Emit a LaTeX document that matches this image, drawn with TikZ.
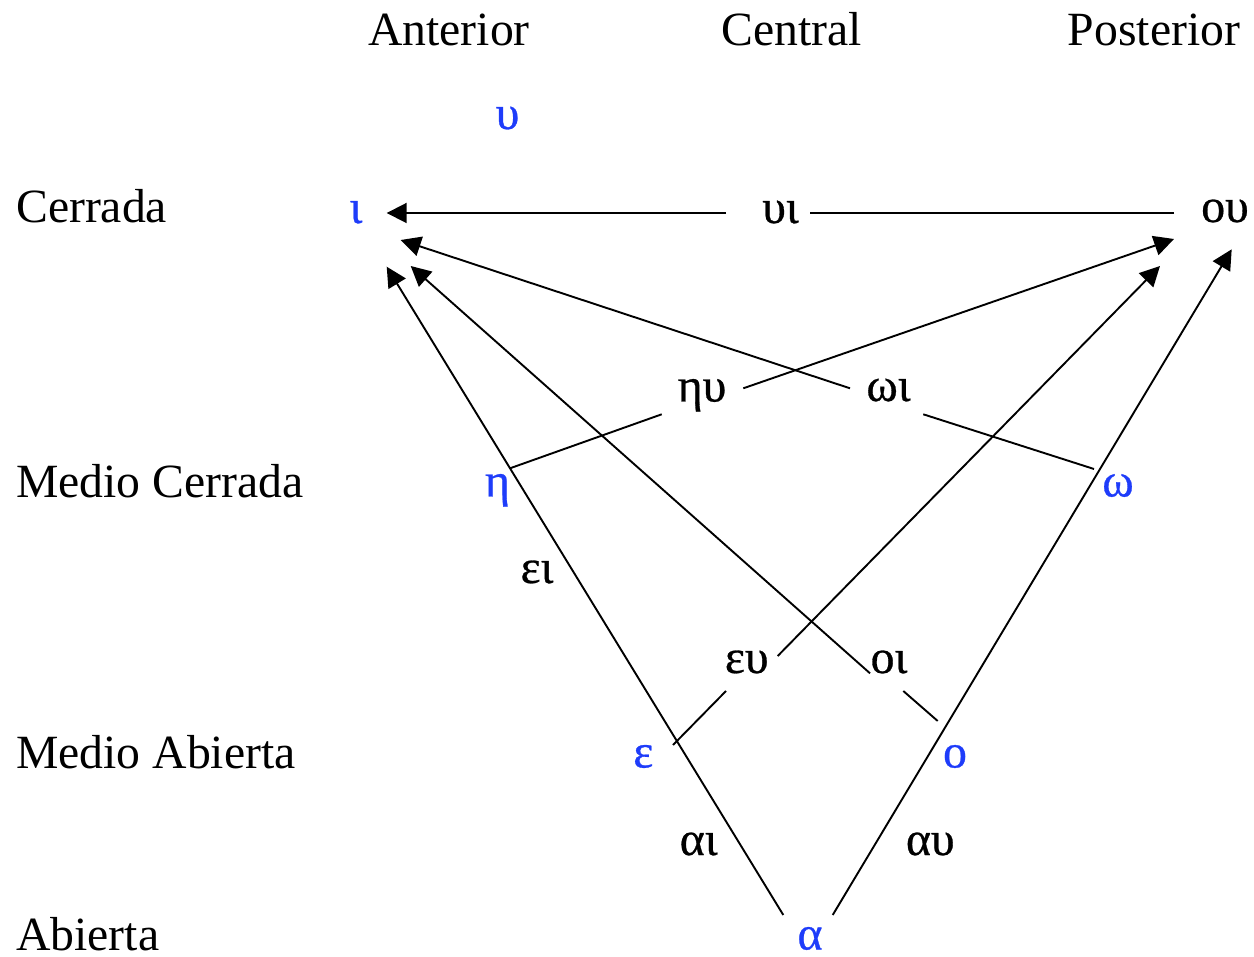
\documentclass[tikz,border=0pt]{standalone}
\usepackage{fontspec}
\setmainfont{Liberation Serif}
\newfontfamily\greekfont[FakeBold=0.6]{Liberation Serif}
\usetikzlibrary{arrows.meta}
\definecolor{vowelblue}{RGB}{30,60,250}
\begin{document}
\begin{tikzpicture}[x=1pt,y=-1pt,
  txt/.style={inner sep=0pt, anchor=base, font=\fontsize{47.7}{57}\selectfont},
  cat/.style={txt},
  rowlab/.style={txt, anchor=base west},
  vowel/.style={txt, font=\fontsize{47.7}{57}\greekfont, text=vowelblue},
  diph/.style={txt, font=\fontsize{47.7}{57}\greekfont, text=black},
  seg/.style={line width=1.9pt},
  arr/.style={seg, -{Triangle[length=20pt,width=20pt]}}]
\useasboundingbox (0,0) rectangle (1254,957);

% column headers
\node[cat] (ant) at (449,46) {Anterior};
\node[cat] (cen) at (792,46) {Central};
\node[cat] (pos) at (1154,46) {Posterior};

% row labels
\node[rowlab] (cer) at (16,223) {Cerrada};
\node[rowlab] (mcer) at (16,498) {Medio Cerrada};
\node[rowlab] (mab) at (16,768) {Medio Abierta};
\node[rowlab] (ab) at (16,950) {Abierta};

% monophthongs
\node[vowel] (u) at (507.5,129) {υ};
\node[vowel] (i) at (356,223) {ι};
\node[vowel] (eta) at (497.5,496.5) {η};
\node[vowel] (omega) at (1118,496.5) {ω};
\node[vowel] (eps) at (643.3,767.5) {ε};
\node[vowel] (o) at (955,767.5) {ο};
\node[vowel] (a) at (810,949.5) {α};

% diphthongs
\node[diph] (ui) at (780.5,223) {υι};
\node[diph] (ou) at (1225,222) {ου};
\node[diph] (hu) at (702,401.5) {ηυ};
\node[diph] (wi) at (888.5,401) {ωι};
\node[diph] (eu) at (746.7,673) {ευ};
\node[diph] (oi) at (889,673) {οι};
\node[diph] (ei) at (537,583) {ει};
\node[diph] (ai) at (698.7,855) {αι};
\node[diph] (au) at (930.3,855) {αυ};

% connector end points
\coordinate (ou-w) at (1174,213);
\coordinate (ui-e) at (810,213);
\coordinate (ui-w) at (726,213);
\coordinate (i-e) at (386.7,213);

\coordinate (omega-start) at (1094,469);
\coordinate (wi-in) at (923.3,414.3);
\coordinate (wi-out) at (850,388.3);
\coordinate (i-tip-w) at (400.7,240);

\coordinate (eta-start) at (510,468.3);
\coordinate (hu-in) at (661.7,414.3);
\coordinate (hu-out) at (743.3,388.3);
\coordinate (ou-tip-h) at (1174,239);

\coordinate (eps-start) at (673,745);
\coordinate (eu-in) at (726,691);
\coordinate (eu-out) at (777.7,656);
\coordinate (ou-tip-e) at (1160,266);

\coordinate (o-start) at (937.7,721);
\coordinate (oi-in) at (903.3,691);
\coordinate (oi-out) at (870,673.3);
\coordinate (i-tip-o) at (410.7,266);

\coordinate (a-left) at (783.3,915);
\coordinate (i-tip-a) at (386.7,266.7);
\coordinate (a-right) at (832.7,915);
\coordinate (ou-tip-a) at (1231.7,249.3);

% connectors
\draw[seg] (ou-w) -- (ui-e);
\draw[arr] (ui-w) -- (i-e);

\draw[seg] (omega-start) -- (wi-in);
\draw[arr] (wi-out) -- (i-tip-w);

\draw[seg] (eta-start) -- (hu-in);
\draw[arr] (hu-out) -- (ou-tip-h);

\draw[seg] (eps-start) -- (eu-in);
\draw[arr] (eu-out) -- (ou-tip-e);

\draw[seg] (o-start) -- (oi-in);
\draw[arr] (oi-out) -- (i-tip-o);

\draw[arr] (a-left) -- (i-tip-a);
\draw[arr] (a-right) -- (ou-tip-a);
\end{tikzpicture}
\end{document}
